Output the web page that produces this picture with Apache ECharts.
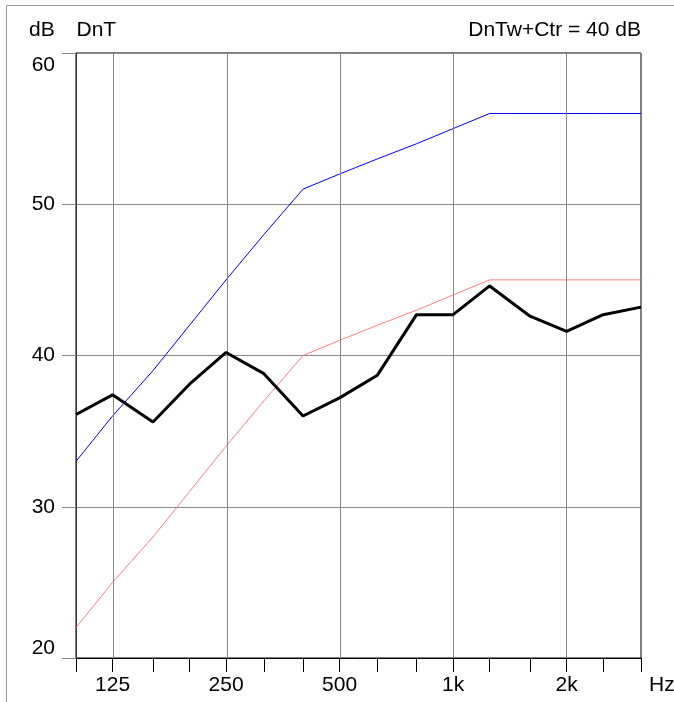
<!DOCTYPE html>
<html>
<head>
<meta charset="utf-8">
<script src="https://cdn.jsdelivr.net/npm/echarts@6/dist/echarts.min.js"></script>
<style>
html,body{margin:0;padding:0;background:#fff;}
#c{width:674px;height:702px;}
</style>
</head>
<body>
<div id="c"></div>
<script>
// Third-octave band centre frequencies (Hz)
const freqs = [100, 125, 160, 200, 250, 315, 400, 500, 630, 800, 1000, 1250, 1600, 2000, 2500, 3150];
// Measured DnT (dB)
const dnt = [36.1, 37.4, 35.6, 38.1, 40.2, 38.8, 36.0, 37.2, 38.7, 42.7, 42.7, 44.6, 42.6, 41.6, 42.7, 43.2];
// Reference curve (blue)
const refCurve = [33, 36, 39, 42, 45, 48, 51, 52, 53, 54, 55, 56, 56, 56, 56, 56];
// Shifted reference curve (red)
const shiftedCurve = [22, 25, 28, 31, 34, 37, 40, 41, 42, 43, 44, 45, 45, 45, 45, 45];
// Octave labels on the x axis
const xTickFreqs = [125, 250, 500, 1000, 2000];
const xTickLabels = ['125', '250', '500', '1k', '2k'];
// Y axis
const yMin = 20, yMax = 60, yStep = 10;

const lg = Math.log10;
const toPts = arr => freqs.map((f, i) => [lg(f), arr[i]]);
const font = 'Liberation Sans, Arial, sans-serif';
const FS = 21;

const chart = echarts.init(document.getElementById('c'), null, {renderer: 'canvas'});
chart.setOption({
  animation: false,
  backgroundColor: '#fff',
  textStyle: {fontFamily: font},
  title: [
    {text: 'dB', left: 29, top: 20, padding: 0, textStyle: {fontFamily: font, fontSize: FS, fontWeight: 'normal', color: '#000'}},
    {text: 'DnT', left: 76.5, top: 20, padding: 0, textStyle: {fontFamily: font, fontSize: FS, fontWeight: 'normal', color: '#000'}},
    {text: 'DnTw+Ctr = 40 dB', right: 33, top: 20, padding: 0, textStyle: {fontFamily: font, fontSize: FS, fontWeight: 'normal', color: '#000'}}
  ],
  graphic: [{
    type: 'polyline',
    silent: true,
    shape: {points: [[6.5, 702], [6.5, 5.5], [674, 5.5]]},
    style: {stroke: '#999', lineWidth: 1, fill: null}
  }],
  grid: {left: 76, right: 33, top: 53, bottom: 44, show: true, borderColor: '#000', borderWidth: 1, backgroundColor: 'transparent', containLabel: false, outerBoundsMode: 'none'},
  xAxis: {
    type: 'value',
    min: lg(freqs[0]),
    max: lg(freqs[freqs.length - 1]),
    name: 'Hz',
    nameLocation: 'end',
    nameGap: 8,
    nameTextStyle: {fontFamily: font, fontSize: FS, color: '#000', verticalAlign: 'top', padding: [17, 0, 0, 0]},
    axisLine: {show: true, onZero: false, lineStyle: {color: '#000', width: 1}},
    axisTick: {show: true, length: 14, inside: false, customValues: freqs.map(lg), lineStyle: {color: '#000', width: 1}},
    axisLabel: {
      show: true, margin: 17, fontSize: FS, color: '#000', fontFamily: font,
      customValues: xTickFreqs.map(lg),
      formatter: v => {
        let best = 0, d = 1e9;
        xTickFreqs.forEach((f, i) => { const dd = Math.abs(lg(f) - v); if (dd < d) { d = dd; best = i; } });
        return xTickLabels[best];
      }
    },
    splitLine: {show: false}
  },
  yAxis: {
    type: 'value',
    min: yMin, max: yMax, interval: yStep,
    axisLine: {show: true, lineStyle: {color: '#333', width: 1}},
    axisTick: {show: true, length: 14, inside: false, lineStyle: {color: '#888', width: 1}},
    axisLabel: {
      margin: 21, fontSize: FS, color: '#000', fontFamily: font,
      formatter: v => v === yMax ? '{t|' + v + '}' : (v === yMin ? '{b|' + v + '}' : String(v)),
      rich: {
        t: {fontSize: FS, fontFamily: font, color: '#000', padding: [24, 0, 0, 0]},
        b: {fontSize: FS, fontFamily: font, color: '#000', padding: [0, 0, 20, 0]}
      }
    },
    splitLine: {show: true, lineStyle: {color: '#888', width: 1}}
  },
  series: [
    {
      name: 'grid', type: 'line', data: [], silent: true,
      markLine: {
        silent: true, symbol: 'none', label: {show: false},
        lineStyle: {color: '#888', width: 1, type: 'solid'},
        data: xTickFreqs.map(f => ({xAxis: lg(f)}))
      }
    },
    {name: 'shifted', type: 'line', data: toPts(shiftedCurve), showSymbol: false, symbol: 'none', lineStyle: {color: '#ff8080', width: 1}, itemStyle: {color: '#ff8080'}, z: 3},
    {name: 'ref', type: 'line', data: toPts(refCurve), showSymbol: false, symbol: 'none', lineStyle: {color: '#0000ff', width: 1}, itemStyle: {color: '#0000ff'}, z: 4},
    {name: 'DnT', type: 'line', data: toPts(dnt), showSymbol: false, symbol: 'none', lineStyle: {color: '#000', width: 3}, itemStyle: {color: '#000'}, z: 5}
  ]
});
</script>
</body>
</html>
